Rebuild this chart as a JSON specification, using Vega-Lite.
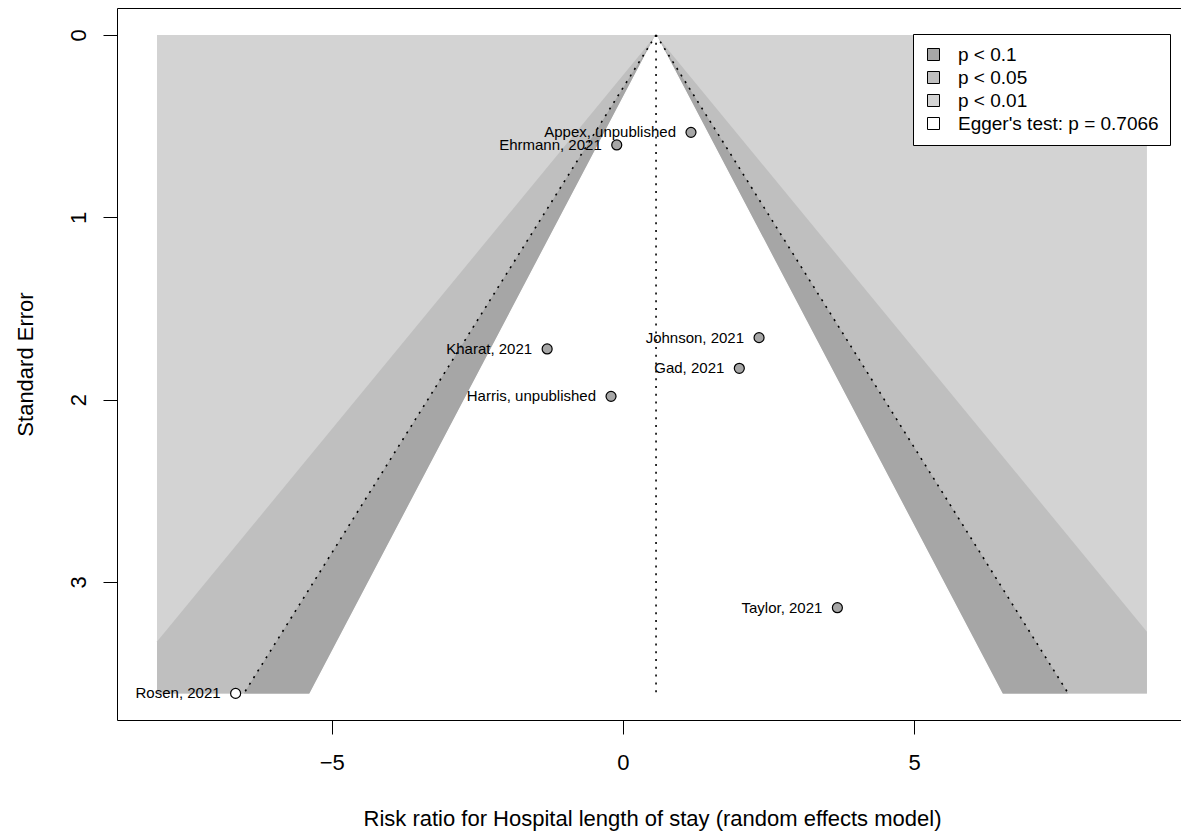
{
  "$schema": "https://vega.github.io/schema/vega-lite/v6.json",
  "autosize": "none",
  "width": 1064,
  "height": 712,
  "padding": {"left": 117, "top": 8, "right": 0, "bottom": 114},
  "background": "white",
  "config": {
    "view": {"stroke": null},
    "font": "Liberation Sans",
    "axis": {
      "grid": false,
      "domainColor": "black",
      "domainWidth": 1,
      "tickColor": "black",
      "tickWidth": 1,
      "tickSize": 14,
      "labelFont": "Liberation Sans",
      "labelFontSize": 22,
      "labelColor": "black",
      "labelFlush": false,
      "labelOverlap": false,
      "titleFont": "Liberation Sans",
      "titleFontSize": 22,
      "titleFontWeight": "normal",
      "titleColor": "black"
    },
    "legend": {
      "orient": "none",
      "legendX": 796,
      "legendY": 26,
      "strokeColor": "black",
      "fillColor": "white",
      "padding": 11,
      "symbolType": "square",
      "symbolSize": 144,
      "symbolStrokeColor": "black",
      "symbolStrokeWidth": 1,
      "symbolOpacity": 1,
      "labelFont": "Liberation Sans",
      "labelFontSize": 19,
      "labelColor": "black",
      "labelOffset": 15,
      "labelLimit": 400,
      "rowPadding": 3
    }
  },
  "datasets": {
    "region": [
      {"level": "p < 0.01", "xmin": -8, "xmax": 9, "semin": 0, "semax": 3.611}
    ],
    "contour99": [
      {"level": "p < 0.05", "se": 0, "lo": 0.57, "hi": 0.57},
      {"level": "p < 0.05", "se": 3.273, "lo": -7.861, "hi": 9},
      {"level": "p < 0.05", "se": 3.327, "lo": -8, "hi": 9},
      {"level": "p < 0.05", "se": 3.611, "lo": -8, "hi": 9}
    ],
    "contour95": [
      {"level": "p < 0.1", "se": 0, "lo": 0.57, "hi": 0.57},
      {"level": "p < 0.1", "se": 3.611, "lo": -6.508, "hi": 7.648}
    ],
    "contour90": [
      {"se": 0, "lo": 0.57, "hi": 0.57},
      {"se": 3.611, "lo": -5.37, "hi": 6.51}
    ],
    "pseudoCI": [
      {"side": "lower", "se": 0, "x": 0.57},
      {"side": "lower", "se": 3.611, "x": -6.508},
      {"side": "upper", "se": 0, "x": 0.57},
      {"side": "upper", "se": 3.611, "x": 7.648}
    ],
    "estimate": [
      {"theta": 0.57, "semin": 0, "semax": 3.611}
    ],
    "studies": [
      {"study": "Appex, unpublished", "effect": 1.17, "se": 0.534},
      {"study": "Ehrmann, 2021", "effect": -0.105, "se": 0.603},
      {"study": "Kharat, 2021", "effect": -1.3, "se": 1.722},
      {"study": "Johnson, 2021", "effect": 2.339, "se": 1.66},
      {"study": "Gad, 2021", "effect": 2.0, "se": 1.828},
      {"study": "Harris, unpublished", "effect": -0.203, "se": 1.982},
      {"study": "Taylor, 2021", "effect": 3.684, "se": 3.141},
      {"study": "Rosen, 2021", "effect": -6.65, "se": 3.611}
    ]
  },
  "resolve": {"axis": {"x": "independent"}},
  "layer": [
    {
      "data": {"name": "region"},
      "mark": {"type": "rect", "opacity": 1},
      "encoding": {
        "x": {
          "field": "xmin", "type": "quantitative",
          "scale": {"domain": [-8.687, 9.585], "nice": false, "zero": false},
          "axis": {"orient": "top", "labels": false, "ticks": false, "domain": true, "title": null}
        },
        "x2": {"field": "xmax"},
        "y": {
          "field": "semin", "type": "quantitative",
          "scale": {"domain": [-0.148, 3.757], "reverse": true, "nice": false, "zero": false},
          "axis": {
            "orient": "left",
            "values": [0, 1, 2, 3],
            "format": "d",
            "labelAngle": -90,
            "labelAlign": "center",
            "labelBaseline": "alphabetic",
            "labelPadding": 18,
            "title": "Standard Error",
            "titleAngle": -90,
            "titleAlign": "center",
            "titleBaseline": "alphabetic",
            "titleX": -85,
            "titleY": 356
          }
        },
        "y2": {"field": "semax"},
        "fill": {
          "field": "level", "type": "nominal",
          "scale": {
            "domain": ["p < 0.1", "p < 0.05", "p < 0.01", "Egger's test: p = 0.7066"],
            "range": ["#a6a6a6", "#bfbfbf", "#d3d3d3", "#ffffff"]
          },
          "legend": {
            "title": null,
            "symbolType": "square",
            "encode": {"symbols": {"update": {"shape": {"value": "square"}, "stroke": {"value": "black"}, "strokeWidth": {"value": 1}}}}
          }
        }
      }
    },
    {
      "data": {"name": "contour99"},
      "mark": {"type": "area", "orient": "horizontal", "opacity": 1},
      "encoding": {
        "y": {"field": "se", "type": "quantitative"},
        "x": {
          "field": "lo", "type": "quantitative",
          "axis": {
            "orient": "bottom",
            "values": [-5, 0, 5],
            "labelPadding": 18,
            "title": "Risk ratio for Hospital length of stay (random effects model)",
            "titleAlign": "center",
            "titleBaseline": "alphabetic",
            "titleX": 535,
            "titleY": 105
          }
        },
        "x2": {"field": "hi"},
        "fill": {
          "field": "level", "type": "nominal",
          "scale": {
            "domain": ["p < 0.1", "p < 0.05", "p < 0.01", "Egger's test: p = 0.7066"],
            "range": ["#a6a6a6", "#bfbfbf", "#d3d3d3", "#ffffff"]
          },
          "legend": {
            "title": null,
            "symbolType": "square",
            "encode": {"symbols": {"update": {"shape": {"value": "square"}, "stroke": {"value": "black"}, "strokeWidth": {"value": 1}}}}
          }
        }
      }
    },
    {
      "data": {"name": "contour95"},
      "mark": {"type": "area", "orient": "horizontal", "opacity": 1},
      "encoding": {
        "y": {"field": "se", "type": "quantitative"},
        "x": {"field": "lo", "type": "quantitative", "axis": null},
        "x2": {"field": "hi"},
        "fill": {
          "field": "level", "type": "nominal",
          "scale": {
            "domain": ["p < 0.1", "p < 0.05", "p < 0.01", "Egger's test: p = 0.7066"],
            "range": ["#a6a6a6", "#bfbfbf", "#d3d3d3", "#ffffff"]
          },
          "legend": {
            "title": null,
            "symbolType": "square",
            "encode": {"symbols": {"update": {"shape": {"value": "square"}, "stroke": {"value": "black"}, "strokeWidth": {"value": 1}}}}
          }
        }
      }
    },
    {
      "data": {"name": "contour90"},
      "mark": {"type": "area", "orient": "horizontal", "opacity": 1, "fill": "white", "stroke": "white", "strokeWidth": 1.2},
      "encoding": {
        "y": {"field": "se", "type": "quantitative"},
        "x": {"field": "lo", "type": "quantitative", "axis": null},
        "x2": {"field": "hi"}
      }
    },
    {
      "data": {"name": "pseudoCI"},
      "mark": {"type": "line", "color": "black", "strokeWidth": 1.6, "strokeDash": [2, 5.8], "strokeCap": "butt"},
      "encoding": {
        "x": {"field": "x", "type": "quantitative", "axis": null},
        "y": {"field": "se", "type": "quantitative"},
        "detail": {"field": "side"},
        "order": {"field": "se"}
      }
    },
    {
      "data": {"name": "estimate"},
      "mark": {"type": "rule", "color": "black", "strokeWidth": 1.6, "strokeDash": [2, 5.8], "strokeCap": "butt"},
      "encoding": {
        "x": {"field": "theta", "type": "quantitative", "axis": null},
        "y": {"field": "semin", "type": "quantitative"},
        "y2": {"field": "semax"}
      }
    },
    {
      "data": {"name": "studies"},
      "mark": {"type": "point", "shape": "circle", "filled": false, "size": 100, "stroke": "black", "strokeWidth": 1.2, "opacity": 1},
      "encoding": {
        "x": {"field": "effect", "type": "quantitative", "axis": null},
        "y": {"field": "se", "type": "quantitative"},
        "fill": {
          "condition": {"test": "datum.study === 'Rosen, 2021'", "value": "white"},
          "value": "#a6a6a6"
        }
      }
    },
    {
      "data": {"name": "studies"},
      "mark": {"type": "text", "align": "right", "baseline": "middle", "dx": -15, "dy": 0, "font": "Liberation Sans", "fontSize": 15, "color": "black"},
      "encoding": {
        "x": {"field": "effect", "type": "quantitative", "axis": null},
        "y": {"field": "se", "type": "quantitative"},
        "text": {"field": "study"}
      }
    }
  ]
}
